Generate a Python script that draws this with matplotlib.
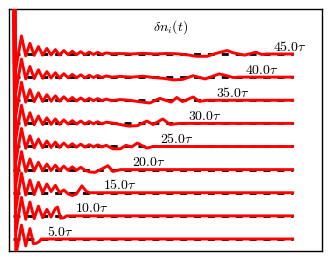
import numpy as np
import matplotlib
matplotlib.use("Agg")
import matplotlib.pyplot as plt

plt.rcParams['mathtext.fontset'] = 'cm'
plt.rcParams['font.family'] = 'serif'

# window lengths (in units of tau) and their labels
T_values = [5, 10, 15, 20, 25, 30, 35, 40, 45]
labels = [r'$5.0\tau$', r'$10.0\tau$', r'$15.0\tau$', r'$20.0\tau$', r'$25.0\tau$',
          r'$30.0\tau$', r'$35.0\tau$', r'$40.0\tau$', r'$45.0\tau$']
title_text = r'$\delta n_i(t)$'
t_end = 49.5

# common early ringing (t, value)
ring_t = [0.0, 0.5, 1.5, 2.25, 3.0, 3.75, 4.5, 5.25, 6.0, 6.75, 7.5, 8.25, 9.0, 9.75,
          10.5, 11.25, 12.0, 12.75, 13.5, 14.25, 15.0, 15.75, 16.5]
ring_v = [12.0, -0.65, 0.78, -0.08, 0.46, -0.06, 0.32, -0.05, 0.24, -0.04, 0.19, -0.04,
          0.15, -0.03, 0.12, -0.03, 0.10, -0.03, 0.08, -0.02, 0.07, -0.02, 0.05]

# how many ring points each trace uses
ring_n = {5: 1, 10: 1, 15: 1, 20: 18, 25: 23, 30: 23, 35: 23, 40: 23, 45: 23}

# per-trace tail knots (t, value) up to the window end
tail_t = {
    5: [0.5, 1.5, 2.25, 3.0, 3.6, 4.2, 4.7, 5.0],
    10: [0.5, 1.5, 2.25, 3.0, 3.75, 4.5, 5.25, 6.0, 6.75, 7.5, 7.9, 8.4, 9.0, 9.5, 10.0],
    15: [0.5, 1.5, 2.25, 3.0, 3.75, 4.5, 5.25, 6.0, 6.75, 7.5, 8.25, 9.0, 9.75, 10.5,
         11.2, 12.2, 13.0, 13.6, 15.0],
    20: [13.6, 14.5, 15.5, 16.8, 17.7, 19.0, 20.0],
    25: [17.7, 19.0, 20.0, 21.0, 22.0, 23.7, 24.8, 25.0],
    30: [17.5, 19.0, 20.5, 22.0, 23.7, 24.8, 26.5, 27.8, 29.5, 30.0],
    35: [17.5, 19.0, 20.5, 22.0, 24.2, 26.0, 28.0, 29.0, 30.0, 31.9, 33.0, 34.3, 35.0],
    40: [17.5, 19.0, 21.0, 23.0, 25.0, 26.5, 28.5, 30.0, 31.9, 34.0, 36.5, 38.0, 39.0, 40.0],
    45: [17.5, 19.0, 21.0, 23.0, 25.0, 27.0, 29.0, 31.0, 32.5, 34.3, 36.0, 37.9, 39.0,
         41.0, 43.0, 44.0, 45.0],
}
tail_v = {
    5: [-0.7, 0.6, -0.3, 0.45, -0.2, -0.18, -0.1, 0.0],
    10: [-0.7, 0.8, -0.15, 0.6, -0.12, 0.42, -0.08, 0.28, -0.05, 0.32, 0.38, -0.1, -0.08,
         0.0, 0.0],
    15: [-0.7, 0.85, -0.1, 0.55, -0.08, 0.45, 0.0, 0.38, 0.05, 0.32, 0.0, 0.12, -0.05,
         -0.12, -0.06, 0.3, 0.05, 0.0, 0.0],
    20: [-0.1, -0.12, 0.0, 0.17, -0.08, 0.0, 0.0],
    25: [-0.1, -0.1, 0.05, -0.02, 0.15, -0.07, 0.0, 0.0],
    30: [0.02, -0.05, -0.12, -0.1, 0.1, -0.05, 0.19, -0.05, 0.0, 0.0],
    35: [-0.02, 0.03, 0.0, -0.05, -0.12, 0.08, -0.08, 0.12, -0.06, 0.14, -0.05, 0.0, 0.0],
    40: [0.0, 0.03, 0.0, 0.04, -0.02, -0.05, -0.12, -0.1, 0.06, -0.08, 0.14, 0.05,
         -0.02, 0.0],
    45: [0.01, 0.02, 0.0, 0.03, 0.0, 0.02, 0.01, -0.04, -0.1, -0.1, 0.03, 0.15, 0.05,
         -0.05, 0.08, -0.02, 0.0],
}

fig = plt.figure(figsize=(3.32, 2.61), dpi=100)
ax = fig.add_axes([9 / 332, 10 / 261, 313 / 332, 242 / 261])

for i, (T, lab) in enumerate(zip(T_values, labels)):
    off = i + 1
    n = ring_n[T]
    t = np.array(ring_t[:n] + tail_t[T] + [t_end])
    v = np.array(ring_v[:n] + tail_v[T] + [0.0])
    ax.plot([0.0, t_end], [off, off], color='black', lw=2.0, dashes=(2.5, 2.5), zorder=2)
    ax.plot(t, v + off, color='red', lw=2.1, zorder=3)
    ax.text(T + 1.0, off + 0.15, lab, fontsize=10, ha='left', va='baseline', zorder=4)

ax.text(0.517, 0.927, title_text, transform=ax.transAxes, fontsize=10,
        ha='center', va='center')

ax.set_xlim(-0.71, 54.7)
ax.set_ylim(0.481, 10.946)
ax.set_xticks([])
ax.set_yticks([])
for s in ax.spines.values():
    s.set_linewidth(1.0)

fig.savefig('out.png', dpi=100)
